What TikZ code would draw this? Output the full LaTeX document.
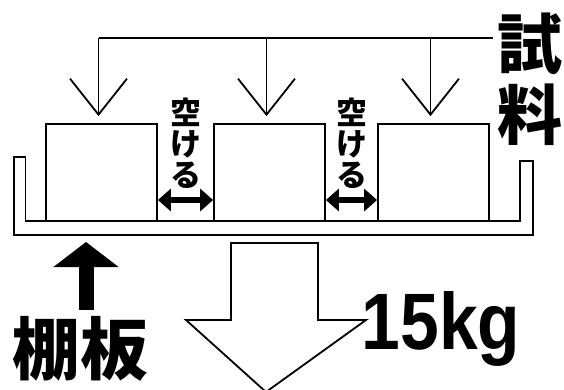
\documentclass[tikz,border=0pt]{standalone}
\usepackage{fontspec}
\setmainfont{Liberation Sans}
\newfontfamily\jpfont{Noto Sans CJK JP}
\usetikzlibrary{arrows.meta,positioning,calc}

\begin{document}
\begin{tikzpicture}[
  x=1pt, y=-1pt,
  line width=1.8pt, line join=miter,
  boxnode/.style={draw, line width=1.8pt, minimum width=111pt, minimum height=97pt, inner sep=0pt},
  barbarrow/.style={-{Straight Barb[length=36pt,width=57pt]}},
  gaparrow/.style={{Triangle[length=13pt,width=22pt]}-{Triangle[length=13pt,width=22pt]}, line width=6pt},
  shelfarrow/.style={-{Triangle[length=25pt,width=64pt]}, line width=15pt},
  tatelabel/.style={font=\jpfont\bfseries\fontsize{31}{31}\selectfont, align=center, inner sep=0pt},
  biglabel/.style={font=\jpfont\bfseries\fontsize{65}{71}\selectfont, align=center, inner sep=0pt},
]
  \useasboundingbox (0,0) rectangle (564,389);
  \clip (0,0) rectangle (564,389);

  % tray
  \draw (14,157) -- (14,235) -- (533,235) -- (533,161) -- (520,161) -- (520,221)
        -- (25.5,221) -- (25.5,157) -- cycle;

  % samples on the shelf
  \node[boxnode] (box1) at (101.5,172.5) {};
  \node[boxnode] (box2) at (269.5,172.5) {};
  \node[boxnode] (box3) at (433.5,172.5) {};

  % label and branches
  \node[biglabel] (sample) at (530,79.5) {試\\料};
  \coordinate (bus) at (493,38);
  \draw (bus) -- ([xshift=-3pt]box1.north |- bus);
  \foreach \b in {box1,box2,box3}
    \draw[barbarrow] ([xshift=-3pt]\b.north |- bus) -- ([xshift=-3pt,yshift=7pt]\b.north);

  % gaps
  \node[tatelabel] (gapA) at ($(box1.east)!0.5!(box2.west)+(0,-29.5)$) {空\\け\\る};
  \node[tatelabel] (gapB) at ($(box2.east)!0.5!(box3.west)+(0,-29.5)$) {空\\け\\る};
  \draw[gaparrow] ([yshift=-27.5pt]box1.east) -- ([yshift=-27.5pt]box2.west);
  \draw[gaparrow] ([yshift=-27.5pt]box2.east) -- ([yshift=-27.5pt]box3.west);

  % shelf board
  \node[biglabel, font=\jpfont\bfseries\fontsize{68}{68}\selectfont] (shelf) at (80.5,349) {棚板};
  \coordinate (shelftip) at (86,242);
  \draw[shelfarrow] ($(shelf.north -| shelftip)+(0,-6)$) -- (shelftip);

  % load
  \draw (231,243) -- (318,243) -- (318,320) -- (366,320) -- (266,392) -- (186,320)
        -- (231,320) -- cycle;
  \node[anchor=base, inner sep=0pt, font=\bfseries\fontsize{80}{80}\selectfont] (load) at (441,349)
    {\scalebox{0.87}[1]{15kg}};
\end{tikzpicture}
\end{document}
